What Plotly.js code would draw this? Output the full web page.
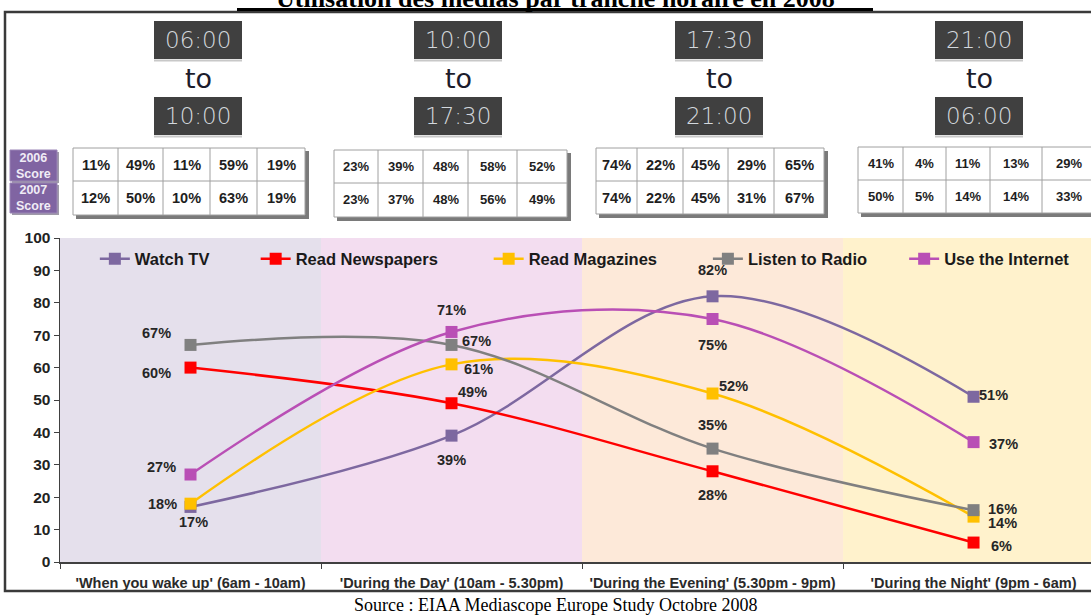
<!DOCTYPE html>
<html><head><meta charset="utf-8">
<script src="https://cdn.plot.ly/plotly-3.0.1.min.js"></script>
<style>html,body{margin:0;padding:0;overflow:hidden;background:#fff}#chart{width:1091px;height:615px}</style>
</head><body><div id="chart"></div>
<script>
// ---------------- DATA ----------------
const categories = ["'When you wake up' (6am - 10am)", "'During the Day' (10am - 5.30pm)", "'During the Evening' (5.30pm - 9pm)", "'During the Night' (9pm - 6am)"];
const seriesNames = ["Watch TV", "Read Newspapers", "Read Magazines", "Listen to Radio", "Use the Internet"];
const watchTV = [17, 39, 82, 51];
const readNewspapers = [60, 49, 28, 6];
const readMagazines = [18, 61, 52, 14];
const listenRadio = [67, 67, 35, 16];
const useInternet = [27, 71, 75, 37];
const slotStart = ["06:00", "10:00", "17:30", "21:00"];
const slotEnd = ["10:00", "17:30", "21:00", "06:00"];
const score2006 = [[11, 49, 11, 59, 19], [23, 39, 48, 58, 52], [74, 22, 45, 29, 65], [41, 4, 11, 13, 29]];
const score2007 = [[12, 50, 10, 63, 19], [23, 37, 48, 56, 49], [74, 22, 45, 31, 67], [50, 5, 14, 14, 33]];
const rowLabels = ["2006<br>Score", "2007<br>Score"];
const titleText = "Utilisation des médias par tranche horaire en 2008";
const sourceText = "Source : EIAA Mediascope Europe Study Octobre 2008";

// ---------------- STYLE / LAYOUT ----------------
const allSeries = [watchTV, readNewspapers, readMagazines, listenRadio, useInternet];
const colors = ["#7d68a0", "#ff0000", "#ffc000", "#808080", "#b94fb5"];
// invisible padding after legend names so entries spread like the original
const legendPad = [9, 10, 10, 7, 0];
// label offsets in px (dx right, dy down) per series per point
const labelOffsets = [
  [[3, 15], [0, 24], [0, -26], [20, -2]],
  [[-34, 5], [21, -11], [0, 24], [28, 3]],
  [[-28, 0], [27, 5], [21, -8], [29, 6]],
  [[-34, -12], [25, -4], [0, -24], [29, -1]],
  [[-29, -8], [0, -22], [0, 26], [30, 2]]
];
const bandColors = ["#e5e0ec", "#f3ddf0", "#fde9d9", "#fff2cc"];

const L = 60, T = 238, W = 1031, H = 324;
const px = v => (v - L) / W;
const py = v => (T + H - v) / H;

const traces = allSeries.map((vals, i) => ({
  type: 'scatter', mode: 'lines+markers', name: seriesNames[i] + '\u00A0'.repeat(legendPad[i]),
  x: categories, y: vals,
  line: {color: colors[i], width: 2.5, shape: 'spline', smoothing: 1},
  marker: {symbol: 'square', size: 12, color: colors[i]},
  cliponaxis: false
}));

const shapes = [];
const annotations = [];

// background bands
bandColors.forEach((c, i) => {
  shapes.push({type: 'rect', xref: 'x', yref: 'paper', x0: i - 0.5, x1: i + 0.5, y0: 0, y1: 1,
    fillcolor: c, line: {width: 0}, layer: 'below'});
});

// data labels
allSeries.forEach((vals, s) => {
  vals.forEach((v, i) => {
    annotations.push({xref: 'x', yref: 'y', x: categories[i], y: v, text: v + '%', showarrow: false,
      xshift: labelOffsets[s][i][0], yshift: -labelOffsets[s][i][1],
      font: {family: 'Liberation Sans, Arial', size: 14.5, weight: 'bold', color: '#262626'}});
  });
});

// frame
shapes.push({type: 'rect', xref: 'paper', yref: 'paper', x0: px(5), x1: px(1100), y0: py(12), y1: py(591),
  line: {color: '#3a3a3a', width: 2.5}, fillcolor: 'rgba(0,0,0,0)'});

// title (cut at top in the original) + underline
annotations.push({xref: 'paper', yref: 'paper', x: px(555), y: py(-2), text: '<b>' + titleText + '</b>', showarrow: false,
  xanchor: 'center', yanchor: 'middle', font: {family: 'Liberation Serif, Times New Roman', size: 26, color: '#000'}});
shapes.push({type: 'line', xref: 'paper', yref: 'paper', x0: px(237), x1: px(873), y0: py(9.5), y1: py(9.5),
  line: {color: '#000', width: 3}});

// source
annotations.push({xref: 'paper', yref: 'paper', x: px(555), y: py(605), text: sourceText, showarrow: false,
  xanchor: 'center', yanchor: 'middle', font: {family: 'Liberation Serif, Times New Roman', size: 18, color: '#000'}});

// time boxes
const boxCenters = [198, 458, 719, 979];
boxCenters.forEach((cx, i) => {
  [[21, 59, slotStart[i]], [97, 135, slotEnd[i]]].forEach(b => {
    shapes.push({type: 'line', xref: 'paper', yref: 'paper', x0: px(cx - 44), x1: px(cx + 44), y0: py(b[1] + 1.5), y1: py(b[1] + 1.5),
      line: {color: '#c8c8c8', width: 2}});
    shapes.push({type: 'rect', xref: 'paper', yref: 'paper', x0: px(cx - 44), x1: px(cx + 44), y0: py(b[0]), y1: py(b[1]),
      fillcolor: '#404040', line: {width: 0}});
    annotations.push({xref: 'paper', yref: 'paper', x: px(cx), y: py((b[0] + b[1]) / 2), text: b[2], showarrow: false,
      xanchor: 'center', yanchor: 'middle', font: {family: 'DejaVu Sans', size: 23, weight: 200, color: '#d3d8dd'}});
  });
  annotations.push({xref: 'paper', yref: 'paper', x: px(cx), y: py(78), text: 'to', showarrow: false,
    xanchor: 'center', yanchor: 'middle', font: {family: 'DejaVu Sans', size: 27, color: '#1c1c2c'}});
});

// row labels (purple)
[[150, 181], [183, 213]].forEach((r, i) => {
  shapes.push({type: 'rect', xref: 'paper', yref: 'paper', x0: px(12), x1: px(59), y0: py(r[0] + 2), y1: py(r[1] + 2),
    fillcolor: '#9f9aa8', line: {width: 0}});
  shapes.push({type: 'rect', xref: 'paper', yref: 'paper', x0: px(10), x1: px(57), y0: py(r[0]), y1: py(r[1]),
    fillcolor: '#8064a2', line: {color: '#9a84b6', width: 1}});
  annotations.push({xref: 'paper', yref: 'paper', x: px(33.5), y: py((r[0] + r[1]) / 2), text: '<b>' + rowLabels[i] + '</b>', showarrow: false,
    xanchor: 'center', yanchor: 'middle', font: {family: 'Liberation Sans, Arial', size: 12.5, color: '#f0ecf6'}});
});

// score tables
const tableCols = [
  [73, 118, 163, 210, 257, 305],
  [334, 378, 423, 468, 517, 567],
  [596, 637, 683, 728, 774, 824],
  [858, 903, 946, 990, 1042, 1096]
];
const tableRows = [[148, 181, 215], [150, 183, 217], [148, 181, 214], [147, 180, 213]];
const tableFont = [14.5, 13, 14.5, 13];
tableCols.forEach((cols, t) => {
  const rows = tableRows[t];
  shapes.push({type: 'rect', xref: 'paper', yref: 'paper', x0: px(cols[0] + 3), x1: px(cols[5] + 4), y0: py(rows[0] + 3), y1: py(rows[2] + 4),
    fillcolor: '#7a7a7a', line: {width: 0}});
  shapes.push({type: 'rect', xref: 'paper', yref: 'paper', x0: px(cols[0]), x1: px(cols[5]), y0: py(rows[0]), y1: py(rows[2]),
    fillcolor: '#ffffff', line: {color: '#a0a0a0', width: 1}});
  for (let c = 1; c < 5; c++) {
    shapes.push({type: 'line', xref: 'paper', yref: 'paper', x0: px(cols[c]), x1: px(cols[c]), y0: py(rows[0]), y1: py(rows[2]),
      line: {color: '#a0a0a0', width: 1}});
  }
  shapes.push({type: 'line', xref: 'paper', yref: 'paper', x0: px(cols[0]), x1: px(cols[5]), y0: py(rows[1]), y1: py(rows[1]),
    line: {color: '#a0a0a0', width: 1}});
  [score2006[t], score2007[t]].forEach((rowVals, r) => {
    rowVals.forEach((v, c) => {
      annotations.push({xref: 'paper', yref: 'paper', x: px((cols[c] + cols[c + 1]) / 2), y: py((rows[r] + rows[r + 1]) / 2),
        text: v + '%', showarrow: false, xanchor: 'center', yanchor: 'middle',
        font: {family: 'Liberation Sans, Arial', size: tableFont[t], weight: 'bold', color: '#1e1e1e'}});
    });
  });
});

const layout = {
  width: 1091, height: 615, autosize: false,
  margin: {l: L, r: 0, t: T, b: 615 - T - H, pad: 0},
  paper_bgcolor: '#ffffff', plot_bgcolor: '#ffffff',
  showlegend: true,
  legend: {orientation: 'h', x: px(100) - 0.005, xanchor: 'left', y: py(259), yanchor: 'middle',
    bgcolor: 'rgba(0,0,0,0)', font: {family: 'Liberation Sans, Arial', size: 16.5, weight: 'bold', color: '#1a1a1a'},
    traceorder: 'normal'},
  xaxis: {type: 'category', range: [-0.5, 3.45], tickson: 'boundaries', ticks: 'outside', ticklen: 5,
    tickcolor: '#404040', showline: true, linecolor: '#404040', linewidth: 1.5, showgrid: false, zeroline: false,
    ticklabelstandoff: 7,
    tickfont: {family: 'Liberation Sans, Arial', size: 14.5, weight: 'bold', color: '#2a2a2a'}},
  yaxis: {range: [0, 100], dtick: 10, tick0: 0, ticks: 'outside', ticklen: 5, tickcolor: '#404040',
    showline: true, linecolor: '#404040', linewidth: 1.5, showgrid: false, zeroline: false,
    tickfont: {family: 'Liberation Sans, Arial', size: 15.5, weight: 'bold', color: '#222'}},
  shapes: shapes,
  annotations: annotations
};

Plotly.newPlot('chart', traces, layout, {displayModeBar: false, staticPlot: true});
</script>
</body></html>
